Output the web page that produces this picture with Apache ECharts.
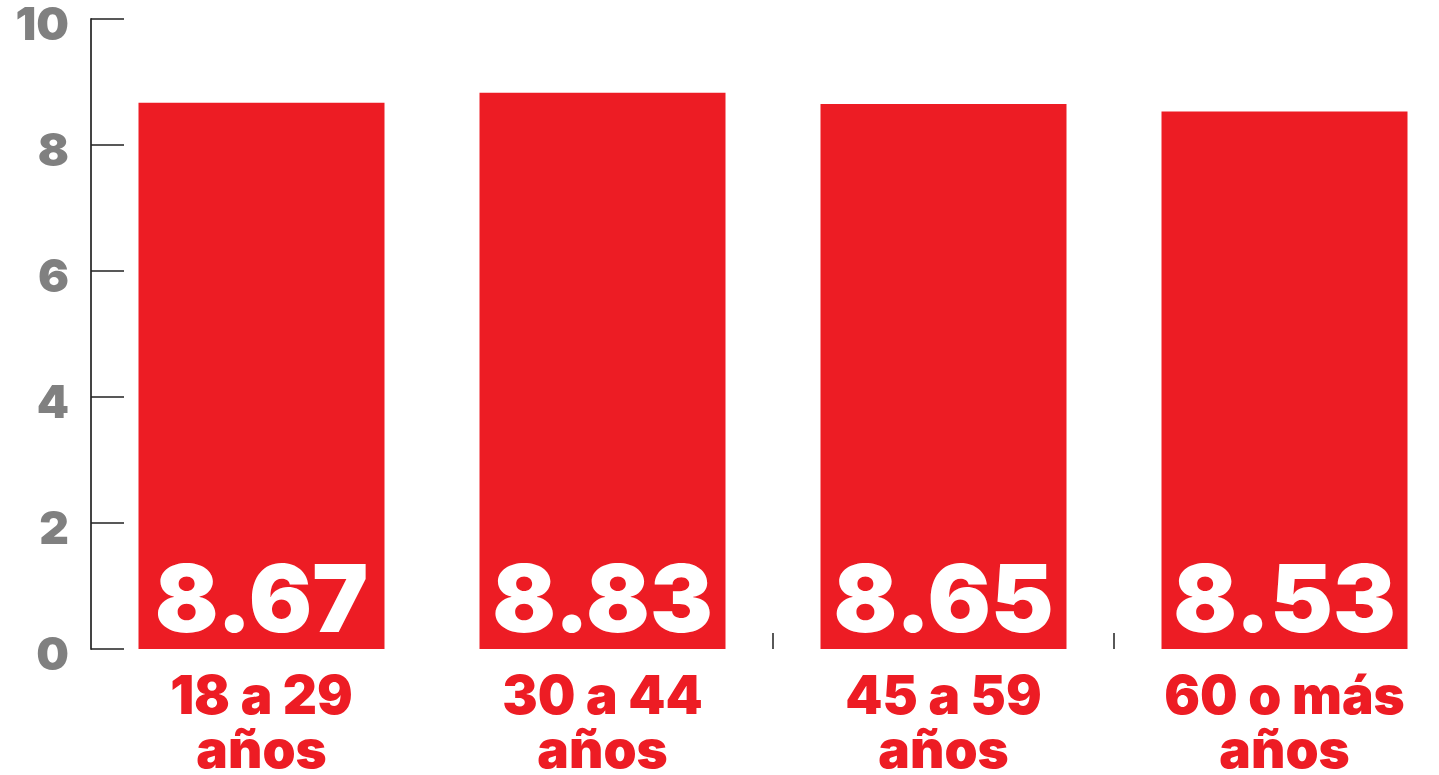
<!DOCTYPE html>
<html><head><meta charset="utf-8">
<script src="https://cdn.jsdelivr.net/npm/echarts@6/dist/echarts.min.js"></script>
<style>html,body{margin:0;padding:0;background:#fff}#c{width:1439px;height:775px}</style>
</head><body><div id="c"></div>
<script>
const categories = ['18 a 29\naños', '30 a 44\naños', '45 a 59\naños', '60 o más\naños'];
const values = [8.67, 8.83, 8.65, 8.53];
const yTicks = [0, 2, 4, 6, 8, 10];

const FONT = 'Inter';
const chart = echarts.init(document.getElementById('c'));
chart.setOption({
  animation: false,
  grid: { left: 91, width: 1364, top: 19, height: 630, containLabel: false, outerBoundsMode: 'none' },
  xAxis: {
    type: 'category',
    data: categories,
    axisLine: { show: false },
    axisTick: { show: true, inside: true, length: 16, lineStyle: { color: '#222', width: 1.5 },
      interval: function (i) { return i === 2 || i === 3; } },
    axisLabel: { color: '#ED1C24', fontFamily: FONT, fontWeight: 900, fontSize: 53, lineHeight: 54, margin: 22 }
  },
  yAxis: {
    type: 'value', min: yTicks[0], max: yTicks[yTicks.length - 1], interval: 2,
    axisLine: { show: true, lineStyle: { color: '#444', width: 2 } },
    axisTick: { show: true, inside: true, length: 33, lineStyle: { color: '#222', width: 1.5 } },
    splitLine: { show: false },
    axisLabel: { color: '#808080', fontFamily: FONT, fontWeight: 900, fontSize: 46, margin: 22,
      verticalAlign: 'top', lineHeight: 14 }
  },
  series: [{
    type: 'bar', data: values, barWidth: 246,
    itemStyle: { color: '#ED1C24' },
    label: { show: true, position: 'insideBottom', distance: -2, color: '#fff',
      fontFamily: FONT, fontWeight: 900, fontSize: 94,
      formatter: p => p.value.toFixed(2) }
  }]
});
</script></body></html>
